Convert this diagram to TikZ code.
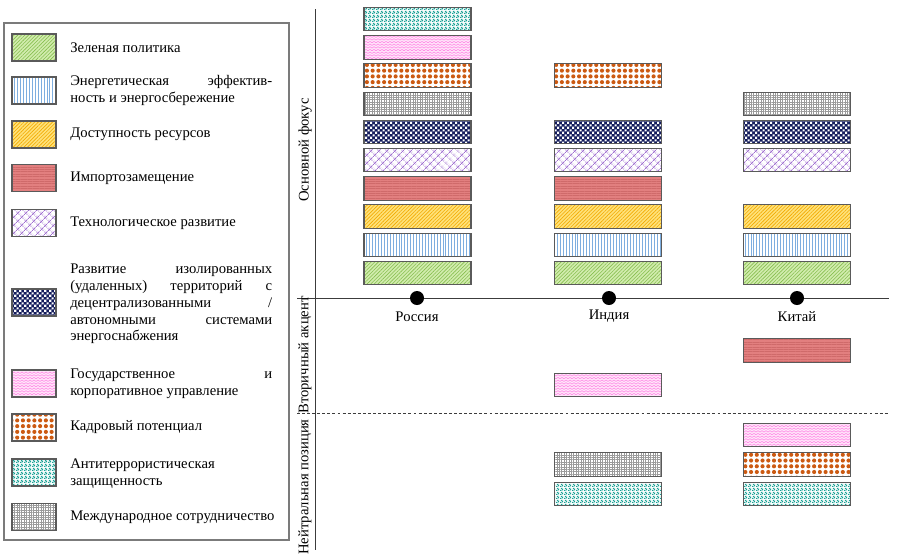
\documentclass[tikz,border=0pt]{standalone}
\usepackage{fontspec}
\setmainfont{Liberation Serif}
\usetikzlibrary{patterns,patterns.meta}
\definecolor{cgreenb}{HTML}{D2ECAE}
\definecolor{cgreenl}{HTML}{86BE4E}
\definecolor{cbluel}{HTML}{7EAEDF}
\definecolor{cyellb}{HTML}{FFE27A}
\definecolor{cyelll}{HTML}{F2A900}
\definecolor{credb}{HTML}{E27F7F}
\definecolor{credl}{HTML}{CF6A6A}
\definecolor{cviol}{HTML}{A070D0}
\definecolor{cnavy}{HTML}{141C5C}
\definecolor{cpinkb}{HTML}{FFE6FA}
\definecolor{cpinkl}{HTML}{FF8AE6}
\definecolor{corange}{HTML}{CC5A12}
\definecolor{cteal}{HTML}{17A094}
\definecolor{cgrayl}{HTML}{9A9A9A}
\definecolor{cbord}{HTML}{5A5A5A}
\definecolor{caxis}{HTML}{3C3C3C}
\pgfdeclarepatternformonly{navycheck}{\pgfpointorigin}{\pgfqpoint{3.7pt}{3.7pt}}{\pgfqpoint{3.7pt}{3.7pt}}{%
  \pgfpathrectangle{\pgfqpoint{0.1pt}{0.1pt}}{\pgfqpoint{1.6pt}{1.6pt}}%
  \pgfpathrectangle{\pgfqpoint{1.95pt}{1.95pt}}{\pgfqpoint{1.6pt}{1.6pt}}%
  \pgfusepath{fill}}
\pgfdeclarepatternformonly{pinkzig}{\pgfqpoint{-0.5pt}{-0.5pt}}{\pgfqpoint{3.5pt}{2.5pt}}{\pgfqpoint{3pt}{2pt}}{%
  \pgfsetlinewidth{0.45pt}%
  \pgfpathmoveto{\pgfqpoint{0pt}{0.4pt}}%
  \pgfpathlineto{\pgfqpoint{1.5pt}{1.5pt}}%
  \pgfpathlineto{\pgfqpoint{3pt}{0.4pt}}%
  \pgfusepath{stroke}}
\pgfdeclarepatternformonly{tealconf}{\pgfpointorigin}{\pgfqpoint{3pt}{3pt}}{\pgfqpoint{3pt}{3pt}}{%
  \pgfpathrectangle{\pgfqpoint{0.1pt}{0.1pt}}{\pgfqpoint{1.2pt}{1.0pt}}%
  \pgfpathrectangle{\pgfqpoint{1.7pt}{0.6pt}}{\pgfqpoint{1.1pt}{1.0pt}}%
  \pgfpathrectangle{\pgfqpoint{0.7pt}{1.8pt}}{\pgfqpoint{1.1pt}{1.0pt}}%
  \pgfpathrectangle{\pgfqpoint{2.2pt}{2.2pt}}{\pgfqpoint{0.7pt}{0.7pt}}%
  \pgfusepath{fill}}
\tikzset{
  bx/.style={draw=cbord, line width=0.8pt, inner sep=0pt},
  barsz/.style={bx, minimum width=80.25pt, minimum height=17.6pt},
  legsz/.style={bx, minimum width=33pt, minimum height=20.25pt},
  pgreen/.style={preaction={fill=cgreenb}, pattern={Lines[angle=45,distance=1.9pt,line width=0.45pt]}, pattern color=cgreenl},
  pblue/.style={preaction={fill=white}, pattern={Lines[angle=90,distance=2.2pt,line width=0.6pt]}, pattern color=cbluel},
  pyell/.style={preaction={fill=cyellb}, pattern={Lines[angle=45,distance=1.9pt,line width=0.45pt]}, pattern color=cyelll},
  pred/.style={preaction={fill=credb}, pattern={Lines[angle=0,distance=1.8pt,line width=0.4pt]}, pattern color=credl},
  pviol/.style={preaction={fill=white}, pattern={Hatch[angle=45,distance=4pt,line width=0.5pt]}, pattern color=cviol},
  pnavy/.style={preaction={fill=cnavy}, pattern=navycheck, pattern color=white},
  ppink/.style={preaction={fill=cpinkb}, pattern=pinkzig, pattern color=cpinkl},
  porange/.style={preaction={fill=white}, pattern={Dots[radius=1.55pt,distance=4.3pt]}, pattern color=corange},
  pteal/.style={preaction={fill=white}, pattern=tealconf, pattern color=cteal},
  pgray/.style={preaction={fill=white}, pattern={Hatch[angle=0,distance=1.8pt,line width=0.3pt]}, pattern color=cgrayl},
  lt/.style={anchor=west, inner sep=0pt, align=left, font=\fontsize{11}{12.6}\selectfont},
  axl/.style={inner sep=0pt, font=\fontsize{11}{12.75}\selectfont},
  axline/.style={draw=caxis, line width=0.75pt},
  dot/.style={circle, fill=black, minimum size=10.5pt, inner sep=0pt},
}
\newcommand{\jline}[1]{\hbox to 151.5pt{#1}}
\begin{document}
\begin{tikzpicture}[x=0.75pt,y=-0.75pt]
\useasboundingbox (0,0) rectangle (900,558);
% legend frame
\draw[draw=cbord!80, line width=1pt] (4,23) rectangle (289,540);
% legend swatches
\node[legsz,pgreen] (lg1) at (34,47.5) {};
\node[legsz,pblue] (lg2) at (34,90.5) {};
\node[legsz,pyell] (lg3) at (34,134.5) {};
\node[legsz,pred] (lg4) at (34,178) {};
\node[legsz,pviol] (lg5) at (34,223) {};
\node[legsz,pnavy] (lg6) at (34,302.5) {};
\node[legsz,ppink] (lg7) at (34,383.5) {};
\node[legsz,porange] (lg8) at (34,427.5) {};
\node[legsz,pteal] (lg9) at (34,472.5) {};
\node[legsz,pgray] (lg10) at (34,517) {};
% legend texts
\node[lt] (lt1) at (70,47.5) {Зеленая политика};
\node[lt] (lt2) at (70,90.5) {\jline{Энергетическая\hfill эффектив-}\\ность и энергосбережение};
\node[lt] (lt3) at (70,134.5) {Доступность ресурсов};
\node[lt] (lt4) at (70,178) {Импортозамещение};
\node[lt] (lt5) at (70,223) {Технологическое развитие};
\node[lt] (lt6) at (70,304) {\jline{Развитие\hfill изолированных}\\\jline{(удаленных)\hfill территорий\hfill с}\\\jline{децентрализованными\hfill /}\\\jline{автономными\hfill системами}\\энергоснабжения};
\node[lt] (lt7) at (70,383.5) {\jline{Государственное\hfill и}\\корпоративное управление};
\node[lt] (lt8) at (70,427.5) {Кадровый потенциал};
\node[lt] (lt9) at (70,473.5) {Антитеррористическая\\защищенность};
\node[lt] (lt10) at (70,517) {Международное сотрудничество};
% axes
\coordinate (vt) at (315,9);
\coordinate (vb) at (315,550);
\coordinate (hl) at (297,298);
\coordinate (hr) at (889,298);
\coordinate (dl) at (297,413);
\coordinate (dr) at (889,413);
\draw[axline] (vt) -- (vb);
\draw[axline] (hl) -- (hr);
\draw[axline, dash pattern=on 2.2pt off 1.6pt] (dl) -- (dr);
% axis labels
\node[axl, rotate=90] (ax1) at (305,150) {Основной фокус};
\node[axl, rotate=90] (ax2) at (305,355) {Вторичный акцент};
\node[axl, rotate=90] (ax3) at (305,487) {Нейтральная позиция};
% country dots and labels
\node[dot] (ru) at (417,298) {};
\node[dot] (in) at (609,298) {};
\node[dot] (cn) at (797,298) {};
\node[axl] (rul) at (417,317) {Россия};
\node[axl] (inl) at (609,316) {Индия};
\node[axl] (cnl) at (797,317) {Китай};
% Russia column
\node[barsz,pgreen] (r1) at (417.5,273) {};
\node[barsz,pblue] (r2) at (417.5,244.8) {};
\node[barsz,pyell] (r3) at (417.5,216.6) {};
\node[barsz,pred] (r4) at (417.5,188.4) {};
\node[barsz,pviol] (r5) at (417.5,160.2) {};
\node[barsz,pnavy] (r6) at (417.5,132) {};
\node[barsz,pgray] (r7) at (417.5,103.8) {};
\node[barsz,porange] (r8) at (417.5,75.6) {};
\node[barsz,ppink] (r9) at (417.5,47.4) {};
\node[barsz,pteal] (r10) at (417.5,19.2) {};
% India column
\node[barsz,pgreen] (i1) at (608,273) {};
\node[barsz,pblue] (i2) at (608,244.8) {};
\node[barsz,pyell] (i3) at (608,216.6) {};
\node[barsz,pred] (i4) at (608,188.4) {};
\node[barsz,pviol] (i5) at (608,160.2) {};
\node[barsz,pnavy] (i6) at (608,132) {};
\node[barsz,porange] (i8) at (608,75.6) {};
\node[barsz,ppink] (i11) at (608,385) {};
\node[barsz,pgray] (i12) at (608,464.5) {};
\node[barsz,pteal] (i13) at (608,494) {};
% China column
\node[barsz,pgreen] (c1) at (797,273) {};
\node[barsz,pblue] (c2) at (797,244.8) {};
\node[barsz,pyell] (c3) at (797,216.6) {};
\node[barsz,pviol] (c5) at (797,160.2) {};
\node[barsz,pnavy] (c6) at (797,132) {};
\node[barsz,pgray] (c7) at (797,103.8) {};
\node[barsz,pred] (c11) at (797,350.5) {};
\node[barsz,ppink] (c12) at (797,435) {};
\node[barsz,porange] (c13) at (797,464.5) {};
\node[barsz,pteal] (c14) at (797,494) {};
\end{tikzpicture}
\end{document}
